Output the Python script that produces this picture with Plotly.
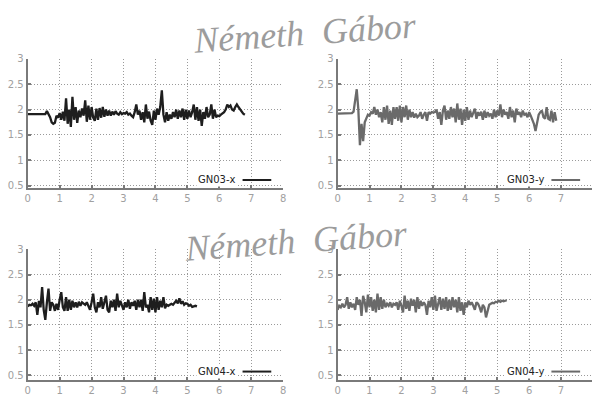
import numpy as np
import plotly.graph_objects as go

STEP = 0.05

gn03_x = [1.91]*12 + [
    1.97, 1.92, 1.85, 1.75, 1.72, 1.74, 1.88, 1.84, 1.93, 1.80,
    1.96, 1.78, 2.22, 1.72, 2.00, 1.66, 2.25, 1.80, 2.05, 1.74,
    1.98, 1.85, 2.02, 1.88, 2.18, 1.76, 2.08, 1.80, 2.05, 1.84,
    1.78, 2.02, 1.80, 2.03, 1.84, 2.05, 1.86, 2.00, 1.88, 1.98,
    1.88, 1.96, 1.90, 1.97, 1.92, 1.90, 1.95, 1.91, 1.93, 1.92,
    1.95, 1.90, 1.92, 1.88, 1.85, 1.95, 2.10, 1.90, 1.98, 1.80,
    1.95, 1.75, 2.10, 1.82, 1.96, 1.78, 1.70, 1.98, 1.80, 2.02,
    1.90, 2.05, 2.38, 1.90, 1.75, 1.95, 1.78, 1.90, 1.82, 1.95,
    1.85, 2.00, 1.82, 1.98, 1.85, 2.02, 1.80, 2.00, 1.82, 1.98,
    1.85, 1.95, 2.10, 1.80, 2.05, 1.78, 2.00, 1.68, 1.95, 1.82,
    2.05, 1.85, 1.90, 2.10, 1.82, 2.00, 1.85, 1.88, 1.87, 1.90,
    1.92, 1.95, 2.00, 2.10, 2.05, 2.08, 2.00, 1.98, 2.05, 2.10,
    2.05, 2.00, 1.95, 1.92, 1.90,
]

gn03_y = [1.92]*9 + [
    1.93, 1.96, 2.15, 2.40, 2.00, 1.30, 1.72, 1.38, 1.75, 1.82,
    1.90, 1.88, 1.95, 1.92, 2.05, 1.90, 2.00, 1.85, 1.95, 1.75,
    2.05, 1.80, 2.08, 1.72, 1.98, 1.70, 2.05, 1.82, 2.05, 1.78,
    2.08, 1.75, 2.05, 1.85, 2.08, 1.80, 2.00, 1.85, 1.95, 1.84,
    1.92, 1.85, 1.88, 1.95, 1.82, 1.90, 1.95, 1.78, 1.95, 1.92,
    1.95, 1.94, 1.95, 2.00, 1.82, 1.95, 1.70, 1.98, 2.08, 1.80,
    1.98, 1.82, 2.05, 1.85, 2.02, 1.75, 2.12, 1.80, 2.02, 1.70,
    2.00, 1.78, 2.05, 1.80, 1.98, 1.85, 1.95, 2.02, 1.82, 1.95,
    1.88, 1.96, 1.80, 1.98, 1.84, 1.95, 1.88, 1.92, 1.82, 2.00,
    1.85, 1.98, 1.88, 2.10, 1.85, 2.00, 1.90, 1.95, 1.82, 2.05,
    1.85, 1.98, 1.75, 2.02, 1.90, 1.95, 1.85, 1.98, 1.90, 1.92,
    1.85, 1.95, 1.88, 1.80, 1.72, 1.58, 1.75, 1.90, 1.95, 1.98,
    1.85, 1.82, 2.05, 1.82, 1.80, 1.98, 1.75, 1.95, 1.78,
]

gn04_x = [
    1.87, 1.90, 1.89, 1.92, 1.88, 1.95, 1.70, 1.98, 1.85, 2.25,
    1.80, 1.60, 1.95, 2.22, 1.78, 1.95, 1.90, 1.78, 1.92, 1.80,
    2.00, 2.15, 1.85, 1.78, 2.05, 1.78, 2.00, 1.80, 1.98, 1.85,
    1.95, 1.85, 1.96, 1.88, 1.95, 1.92, 1.90, 1.95, 1.88, 1.80,
    1.95, 2.12, 1.85, 1.75, 1.95, 1.85, 2.05, 1.82, 1.95, 2.08,
    1.80, 1.75, 1.98, 1.85, 2.00, 1.78, 2.12, 1.85, 1.98, 1.90,
    1.80, 1.95, 1.85, 2.00, 1.82, 1.95, 1.88, 1.98, 1.80, 2.00,
    1.85, 2.00, 1.78, 2.15, 1.85, 1.90, 1.75, 2.05, 1.80, 2.02,
    1.75, 2.05, 1.80, 1.98, 1.85, 2.05, 1.83, 1.90, 1.88, 1.90,
    1.92, 1.90, 1.95, 1.98, 1.93, 2.03, 1.92, 1.97, 1.90, 1.93,
    1.92, 1.88, 1.90, 1.86, 1.87, 1.88, 1.87,
]

gn04_y = [
    1.80, 1.88, 1.85, 1.92, 1.85, 1.90, 2.05, 1.82, 1.95, 1.85,
    1.92, 1.80, 2.05, 1.90, 2.00, 1.68, 2.08, 1.95, 1.75, 2.10,
    1.85, 2.05, 1.78, 2.00, 1.75, 2.12, 1.80, 2.05, 1.82, 2.00,
    1.85, 1.92, 1.88, 1.95, 1.85, 1.92, 1.90, 1.95, 1.80, 1.98,
    1.88, 1.75, 2.08, 1.82, 1.98, 1.78, 2.02, 1.88, 2.00, 1.75,
    2.05, 1.82, 1.98, 1.88, 1.95, 1.90, 1.70, 1.98, 1.85, 2.05,
    1.80, 2.08, 1.78, 1.95, 2.05, 1.80, 2.02, 1.82, 2.05, 1.78,
    2.00, 1.80, 2.05, 1.85, 2.00, 1.75, 2.05, 1.78, 1.95, 1.70,
    1.95, 1.85, 1.98, 1.90, 1.95, 1.88, 1.80, 1.95, 1.92, 1.85,
    1.75, 1.90, 1.85, 1.65, 1.78, 1.90, 1.92, 1.94, 1.93, 1.96,
    1.95, 1.98, 1.96, 1.98, 1.97, 1.98, 1.99,
]

series = [
    ("GN03-x", gn03_x, "#1e1e1e", "x1", "y1"),
    ("GN03-y", gn03_y, "#6a6a6a", "x2", "y2"),
    ("GN04-x", gn04_x, "#1e1e1e", "x3", "y3"),
    ("GN04-y", gn04_y, "#6a6a6a", "x4", "y4"),
]
x_ticks = [0, 1, 2, 3, 4, 5, 6, 7, 8]
y_ticks = [0.5, 1, 1.5, 2, 2.5, 3]
y_tick_text = ["0.5", "1", "1.5", "2", "2.5", "3"]

W, H = 595, 399
fig = go.Figure()
for name, ys, color, xa, ya in series:
    xs = np.round(np.arange(len(ys)) * STEP, 2)
    fig.add_trace(go.Scatter(x=xs, y=ys, mode="lines", name=name,
                             line=dict(color=color, width=2.3),
                             xaxis=xa, yaxis=ya, showlegend=False))

def px_x(p):
    return p / W

def px_y(p):
    return 1 - p / H

panels = [
    ("xaxis", "yaxis", 25, 283, 54, 186, 8.0, 0.46),
    ("xaxis2", "yaxis2", 338, 595, 54, 186, 7.97, 0.46),
    ("xaxis3", "yaxis3", 25, 283, 249, 383, 8.0, 0.40),
    ("xaxis4", "yaxis4", 338, 595, 249, 383, 7.97, 0.40),
]
axis_common = dict(showline=True, linecolor="#7a7a7a", linewidth=2,
                   showgrid=True, gridcolor="#9a9a9a", griddash="1px,2px",
                   gridwidth=1, zeroline=False, ticks="inside", ticklen=3,
                   tickcolor="#7a7a7a", tickwidth=1.5,
                   tickfont=dict(family="DejaVu Sans", size=10, color="#a0a0a0"))
layout = {}
for i, (xk, yk, l, r, t, b, xmax, ymin) in enumerate(panels):
    anchor_y = "y" if i == 0 else f"y{i+1}"
    anchor_x = "x" if i == 0 else f"x{i+1}"
    layout[xk] = dict(axis_common, domain=[px_x(l), px_x(r)], range=[0, xmax],
                      tickvals=x_ticks, anchor=anchor_y)
    layout[yk] = dict(axis_common, domain=[px_y(b), px_y(t)], range=[ymin, 3.0],
                      tickvals=y_ticks, ticktext=y_tick_text, anchor=anchor_x)

fig.update_layout(**layout)

legend_pos = [
    ("GN03-x", "#1e1e1e", 237, 242, 271, 178),
    ("GN03-y", "#6a6a6a", 549, 554, 583, 178),
    ("GN04-x", "#1e1e1e", 237, 242, 271, 374),
    ("GN04-y", "#6a6a6a", 549, 554, 583, 374),
]
annotations = []
shapes = []
for name, color, tx, lx0, lx1, yy in legend_pos:
    annotations.append(dict(text=name, x=px_x(tx), y=px_y(yy), xref="paper", yref="paper",
                            xanchor="right", yanchor="middle", showarrow=False,
                            bgcolor="white",
                            font=dict(family="DejaVu Sans", size=10, color="#222222")))
    shapes.append(dict(type="line", xref="paper", yref="paper",
                       x0=px_x(lx0), x1=px_x(lx1), y0=px_y(yy), y1=px_y(yy),
                       line=dict(color=color, width=2)))

for cx, cy in [(305, 28), (296, 240)]:
    annotations.append(dict(text="Németh  Gábor", x=px_x(cx), y=px_y(cy),
                            xref="paper", yref="paper", showarrow=False,
                            xanchor="center", yanchor="middle", textangle=-4,
                            font=dict(family="Liberation Serif", size=36, color="#9c9c9c",
                                      style="italic")))

fig.update_layout(annotations=annotations, shapes=shapes,
                  width=W, height=H, margin=dict(l=0, r=0, t=0, b=0),
                  paper_bgcolor="white", plot_bgcolor="white", showlegend=False)

fig.write_html("out.html", config={"displayModeBar": False})
